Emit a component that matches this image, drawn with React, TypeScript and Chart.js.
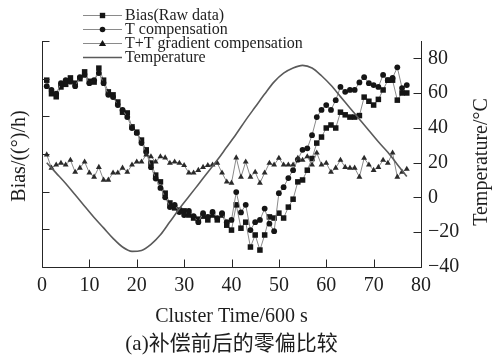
import React, { useEffect, useRef } from "react";
import { Chart, registerables } from "chart.js";

Chart.register(...registerables);

// ---- data ----
const TIME = Array.from({ length: 77 }, (_, i) => i + 1); // cluster index 1..77

const RAW = [
  19.6, 16.0, 15.2, 17.8, 18.5, 20.2, 18.8, 20.0, 21.8, 19.3,
  19.1, 22.8, 19.6, 16.5, 15.7, 13.8, 11.1, 10.9, 7.2, 5.8,
  3.7, 1.1, -2.4, -5.6, -7.4, -10.4, -13.0, -14.3, -14.9, -15.1,
  -16.2, -17.0, -17.3, -16.5, -17.5, -16.2, -17.5, -16.2, -18.9, -20.2,
  -13.5, -19.7, -18.1, -24.7, -21.5, -25.5, -21.5, -16.7, -17.0, -15.7,
  -17.0, -14.1, -12.0, -7.4, -6.9, -4.3, -1.2, 2.9, 4.5, 6.9,
  7.7, 6.9, 11.1, 10.4, 9.8, 9.8, 10.2, 15.1, 14.0, 13.0,
  14.5, 17.0, 19.6, 19.6, 14.3, 16.2, 16.2,
];

const TCOMP = [
  18.0, 17.0, 16.0, 18.8, 19.6, 19.2, 18.0, 20.4, 21.0, 18.8,
  19.6, 21.5, 18.8, 15.7, 15.1, 13.0, 11.7, 9.8, 6.9, 5.6,
  2.9, 0.5, -3.5, -6.5, -9.0, -11.5, -14.1, -13.5, -15.4, -16.2,
  -15.1, -16.5, -18.1, -15.7, -16.7, -15.4, -17.0, -15.7, -18.1, -17.5,
  -10.1, -15.5, -13.5, -20.2, -18.1, -17.5, -14.5, -18.5, -20.5, -10.4,
  -8.8, -6.4, -4.3, -1.5, 1.1, 1.5, 5.0, 9.8, 11.7, 13.0,
  11.7, 14.3, 17.8, 16.5, 17.0, 17.0, 19.0, 20.4, 18.8, 18.3,
  17.8, 21.0, 19.6, 20.2, 23.0, 17.5, 18.3,
];

const TGRAD = [
  -0.2, -3.7, -2.9, -2.4, -2.9, -1.6, -4.8, -3.7, -2.1, -5.0,
  -6.1, -3.5, -6.9, -6.9, -5.0, -5.0, -3.7, -4.8, -2.9, -2.1,
  -2.1, -0.2, -0.7, -2.1, -0.7, -1.0, -2.4, -2.1, -2.4, -3.0,
  -5.0, -5.0, -4.3, -3.5, -3.0, -2.9, -2.4, -5.0, -7.4, -7.7,
  -1.0, -6.1, -2.1, -6.1, -4.8, -7.7, -5.0, -2.4, -2.9, -1.1,
  -2.9, -2.9, -2.9, -1.1, -1.6, -0.7, -2.9, 0.3, -2.9, -2.4,
  -4.8, -3.7, -1.6, -3.5, -3.7, -3.7, -6.1, -1.1, -2.9, -4.3,
  -3.5, -1.6, -2.4, 0.3, -6.1, -4.8, -4.0,
];

const TEMP_TIME = [
  1, 3, 5, 7, 9, 11, 13, 15, 17, 19, 21, 23, 25, 27, 29, 31, 33, 35, 37, 39,
  41, 43, 45, 47, 49, 51, 53, 55, 57, 59, 61, 63, 65, 67, 69, 71, 73, 75, 77,
];
const TEMP = [
  20, 14, 8, 1.5, -5, -11.5, -17.5, -23.5, -28.5, -31, -30.5, -27, -21.5, -14, -6.5, 0.5, 7.5, 14.5, 21.5, 29,
  36.5, 44.5, 52, 59.5, 66.5, 71.5, 74.5, 76, 74.5, 70, 64.5, 58, 51.5, 45, 38.5, 32, 26, 19, 12,
];

const X_TICKS = [0, 10, 20, 30, 40, 50, 60, 70, 80];
const TEMP_TICKS = [-40, -20, 0, 20, 40, 60, 80];
const LEGEND_LABELS = ["Bias(Raw data)", "T compensation", "T+T gradient compensation", "Temperature"];
const X_TITLE = "Cluster Time/600 s";
const Y_TITLE = "Bias/((°)/h)";
const Y2_TITLE = "Temperature/°C";
const CAPTION = "(a)补偿前后的零偏比较";

// ---- styles ----
const SERIF = "'Liberation Serif', 'DejaVu Serif', serif";
const CAPTION_FONT = "'Liberation Serif', 'Noto Sans CJK SC', serif";
const AXIS_COLOR = "#262626";
const TEXT_COLOR = "#1e1e1e";
const MARK_COLOR = "#151515";
const LINK_COLOR = "#8a8a8a";
const TEMP_COLOR = "#5a5a5a";

function drawMarker(ctx: CanvasRenderingContext2D, kind: string, x: number, y: number) {
  ctx.fillStyle = MARK_COLOR;
  ctx.beginPath();
  if (kind === "rect") {
    ctx.rect(x - 2.7, y - 2.7, 5.4, 5.4);
  } else if (kind === "circle") {
    ctx.arc(x, y, 2.8, 0, Math.PI * 2);
  } else if (kind === "triangle") {
    ctx.moveTo(x, y - 3.6);
    ctx.lineTo(x + 3.6, y + 2.6);
    ctx.lineTo(x - 3.6, y + 2.6);
    ctx.closePath();
  }
  ctx.fill();
}

const overlayPlugin = {
  id: "overlay",
  afterDraw(chart: any) {
    const { ctx, chartArea: a, scales } = chart;
    const L = a.left + 0.5;
    const R = Math.round(a.right) + 0.5;
    const B = Math.round(a.bottom) + 0.5;
    const T = a.top;
    ctx.save();
    // axis lines
    ctx.strokeStyle = AXIS_COLOR;
    ctx.lineWidth = 1;
    ctx.beginPath();
    ctx.moveTo(L, T);
    ctx.lineTo(L, B);
    ctx.lineTo(R, B);
    ctx.moveTo(R, T);
    ctx.lineTo(R, B);
    // inward ticks
    scales.y.ticks.forEach((t: any) => {
      const py = Math.round(scales.y.getPixelForValue(t.value)) + 0.5;
      ctx.moveTo(L, py);
      ctx.lineTo(L + 7, py);
    });
    scales.y2.ticks.forEach((t: any) => {
      const py = Math.round(scales.y2.getPixelForValue(t.value)) + 0.5;
      ctx.moveTo(R, py);
      ctx.lineTo(R - 8, py);
    });
    scales.x.ticks.forEach((t: any) => {
      const px = Math.round(scales.x.getPixelForValue(t.value)) + 0.5;
      ctx.moveTo(px, B);
      ctx.lineTo(px, B - 8);
    });
    ctx.stroke();

    // titles
    ctx.fillStyle = TEXT_COLOR;
    ctx.textAlign = "center";
    ctx.textBaseline = "middle";
    ctx.font = `20px ${SERIF}`;
    ctx.fillText(X_TITLE, (a.left + a.right) / 2, 317);
    ctx.font = `21px ${CAPTION_FONT}`;
    ctx.fillText(CAPTION, (a.left + a.right) / 2, 344);

    ctx.font = `20px ${SERIF}`;
    ctx.save();
    ctx.translate(20, (a.top + a.bottom) / 2 + 2);
    ctx.rotate(-Math.PI / 2);
    ctx.fillText(Y_TITLE, 0, 0);
    ctx.restore();
    ctx.save();
    ctx.translate(482, 162);
    ctx.rotate(-Math.PI / 2);
    ctx.fillText(Y2_TITLE, 0, 0);
    ctx.restore();

    // legend
    const rows = [15, 29, 43, 57];
    const kinds = ["rect", "circle", "triangle", ""];
    ctx.font = `16px ${SERIF}`;
    ctx.textAlign = "left";
    rows.forEach((ry, i) => {
      ctx.strokeStyle = i === 3 ? TEMP_COLOR : LINK_COLOR;
      ctx.lineWidth = i === 3 ? 1.5 : 1;
      ctx.beginPath();
      ctx.moveTo(83, ry + 0.5);
      ctx.lineTo(122, ry + 0.5);
      ctx.stroke();
      if (kinds[i]) drawMarker(ctx, kinds[i], 102.5, ry + 0.5);
      ctx.fillStyle = TEXT_COLOR;
      ctx.fillText(LEGEND_LABELS[i], 125, ry + 1);
    });
    ctx.restore();
  },
};

export default function App() {
  const ref = useRef<HTMLCanvasElement | null>(null);

  useEffect(() => {
    if (!ref.current) return;
    const pts = (vals: number[]) => TIME.map((t, i) => ({ x: t, y: vals[i] }));
    const chart = new Chart(ref.current, {
      type: "line",
      data: {
        datasets: [
          {
            label: LEGEND_LABELS[3],
            data: TEMP_TIME.map((t, i) => ({ x: t, y: TEMP[i] })),
            yAxisID: "y2",
            borderColor: TEMP_COLOR,
            borderWidth: 1.6,
            pointRadius: 0,
            tension: 0.4,
            cubicInterpolationMode: "monotone",
          },
          {
            label: LEGEND_LABELS[2],
            data: pts(TGRAD),
            yAxisID: "y",
            borderColor: LINK_COLOR,
            borderWidth: 1,
            pointStyle: "triangle",
            pointRadius: 3.4,
            pointBackgroundColor: "#2a2a2a",
            pointBorderColor: "#2a2a2a",
            pointBorderWidth: 0,
          },
          {
            label: LEGEND_LABELS[1],
            data: pts(TCOMP),
            yAxisID: "y",
            borderColor: LINK_COLOR,
            borderWidth: 1,
            pointStyle: "circle",
            pointRadius: 2.9,
            pointBackgroundColor: MARK_COLOR,
            pointBorderColor: MARK_COLOR,
            pointBorderWidth: 0,
          },
          {
            label: LEGEND_LABELS[0],
            data: pts(RAW),
            yAxisID: "y",
            borderColor: LINK_COLOR,
            borderWidth: 1,
            pointStyle: "rect",
            pointRadius: 3.9,
            pointBackgroundColor: MARK_COLOR,
            pointBorderColor: MARK_COLOR,
            pointBorderWidth: 0,
          },
        ],
      },
      options: {
        responsive: false,
        animation: false,
        layout: { padding: { top: 41, left: 0, right: 0, bottom: 0 } },
        plugins: { legend: { display: false }, title: { display: false }, tooltip: { enabled: false } },
        scales: {
          x: {
            type: "linear",
            min: 0,
            max: 80,
            afterBuildTicks: (s: any) => {
              s.ticks = X_TICKS.map((v) => ({ value: v }));
            },
            grid: { display: false, drawTicks: false },
            border: { display: false },
            ticks: {
              padding: 7,
              color: TEXT_COLOR,
              font: { family: SERIF, size: 20 },
              maxRotation: 0,
              autoSkip: false,
            },
            afterFit: (s: any) => {
              s.height = 89;
            },
          },
          y: {
            type: "linear",
            position: "left",
            min: -30,
            max: 30,
            ticks: { display: false, stepSize: 10 },
            grid: { display: false, drawTicks: false },
            border: { display: false },
            afterFit: (s: any) => {
              s.width = 42;
            },
          },
          y2: {
            type: "linear",
            position: "right",
            min: -40,
            max: 90,
            afterBuildTicks: (s: any) => {
              s.ticks = TEMP_TICKS.map((v) => ({ value: v }));
            },
            grid: { display: false, drawTicks: false },
            border: { display: false },
            ticks: {
              padding: 7,
              color: TEXT_COLOR,
              font: { family: SERIF, size: 20 },
              callback: (v: any) => (Number(v) < 0 ? "\u2212" + Math.abs(Number(v)) : String(v)),
            },
            afterFit: (s: any) => {
              s.width = 77;
            },
          },
        },
      },
      plugins: [overlayPlugin],
    } as any);
    return () => chart.destroy();
  }, []);

  return (
    <div style={{ position: "absolute", left: 0, top: 0, width: 498, height: 356, background: "#fff" }}>
      <canvas ref={ref} width={498} height={356} style={{ display: "block", width: 498, height: 356 }} />
    </div>
  );
}
